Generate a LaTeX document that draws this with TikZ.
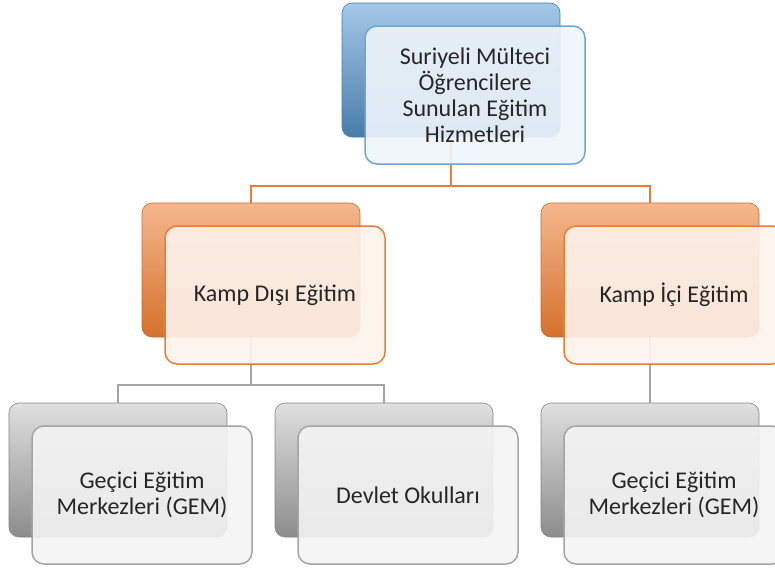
\documentclass[tikz,border=0pt]{standalone}
\usepackage{fontspec}
\setmainfont{Carlito}
\usetikzlibrary{backgrounds}

\definecolor{accblue}{HTML}{5B9BD5}
\definecolor{accorange}{HTML}{ED7D31}
\definecolor{accgrey}{HTML}{A5A5A5}
\definecolor{textgrey}{HTML}{262626}

\begin{document}
\begin{tikzpicture}[x=1pt, y=1pt, node distance=200pt]
    \tikzstyle{cardback} = [rectangle, rounded corners=10pt, minimum width=218pt, minimum height=134pt, line width=0.6pt]
    \tikzstyle{cardfront} = [rectangle, rounded corners=12pt, minimum width=220pt, minimum height=138pt, line width=1.5pt, fill opacity=0.9, text opacity=1, align=center, text=textgrey, font=\fontsize{24}{26}\selectfont, xshift=24pt, yshift=-25pt]
    \tikzstyle{blueback} = [cardback, top color=accblue!55!white, middle color=accblue!95!white, bottom color=accblue!80!black, draw=accblue!80!black]
    \tikzstyle{orangeback} = [cardback, top color=accorange!55!white, middle color=accorange, bottom color=accorange!90!black, draw=accorange!85!black]
    \tikzstyle{greyback} = [cardback, top color=accgrey!35!white, middle color=accgrey, bottom color=accgrey!85!black, draw=accgrey!80!black]
    \tikzstyle{bluefront} = [cardfront, draw=accblue!90, fill=accblue!10]
    \tikzstyle{orangefront} = [cardfront, draw=accorange, fill=accorange!9]
    \tikzstyle{greyfront} = [cardfront, draw=accgrey, fill=accgrey!12]
    \tikzstyle{orangeline} = [draw=accorange, line width=2pt]
    \tikzstyle{greyline} = [draw=accgrey, line width=2pt]

    \useasboundingbox (0,0) rectangle (775,-568);
    \clip (0,0) rectangle (775,-568);

    \node (hizmet) [blueback] at (451,-70) {};
    \node (disi) [orangeback, below of=hizmet, xshift=-200pt] {};
    \node (ici) [orangeback, below of=hizmet, xshift=199pt] {};
    \node (gem1) [greyback, below of=disi, xshift=-133pt] {};
    \node (devlet) [greyback, below of=disi, xshift=133pt] {};
    \node (gem2) [greyback, below of=ici] {};

    \node (hizmetf) [bluefront] at (hizmet) {Suriyeli Mülteci\\Öğrencilere\\Sunulan Eğitim\\Hizmetleri};
    \node (disif) [orangefront] at (disi) {Kamp Dışı Eğitim};
    \node (icif) [orangefront] at (ici) {Kamp İçi Eğitim};
    \node (gem1f) [greyfront] at (gem1) {Geçici Eğitim\\Merkezleri (GEM)};
    \node (devletf) [greyfront] at (devlet) {Devlet Okulları};
    \node (gem2f) [greyfront] at (gem2) {Geçici Eğitim\\Merkezleri (GEM)};

    \begin{scope}[on background layer]
        \coordinate (bar1) at ([yshift=-21pt]hizmetf.south);
        \coordinate (bar2) at ([yshift=-20pt]disif.south);
        \draw[orangeline] (hizmet.south) -- (hizmet.south |- bar1) -| (disi.north);
        \draw[orangeline] (hizmet.south |- bar1) -| (ici.north);
        \draw[greyline] (disi.south) -- (disi.south |- bar2) -| (gem1.north);
        \draw[greyline] (disi.south |- bar2) -| (devlet.north);
        \draw[greyline] (ici.south) -- (gem2.north);
    \end{scope}
\end{tikzpicture}
\end{document}
